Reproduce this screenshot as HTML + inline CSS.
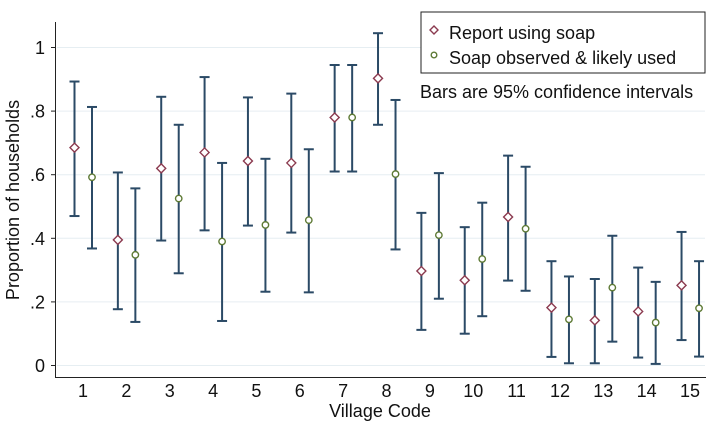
<!DOCTYPE html>
<html><head><meta charset="utf-8"><style>
body{margin:0;background:#fff}
svg text{font-family:"Liberation Sans",Arial,sans-serif;fill:#111}
</style></head><body>
<svg id="c" width="725" height="430" xmlns="http://www.w3.org/2000/svg">
<g id="grid"></g><g id="axes"></g><g id="marks"></g>
<g>
<rect x="421" y="12" width="284" height="61" fill="#fff" stroke="#222" stroke-width="1"/>
<path d="M430,30 l4,-4 l4,4 l-4,4z" fill="none" stroke="#8b3a4f" stroke-width="1.4"/>
<text x="449" y="39" font-size="18">Report using soap</text>
<circle cx="434" cy="55" r="2.8" fill="none" stroke="#5e7a35" stroke-width="1.4"/>
<text x="449" y="64" font-size="18">Soap observed &amp; likely used</text>
</g>
<text x="420" y="98" font-size="18">Bars are 95% confidence intervals</text>
<text x="380" y="417" font-size="18" text-anchor="middle">Village Code</text>
<text transform="translate(19,200) rotate(-90)" font-size="18" text-anchor="middle">Proportion of households</text>
</svg>
<script>
const villages=[1,2,3,4,5,6,7,8,9,10,11,12,13,14,15];
const reportMean=[.685,.395,.62,.67,.643,.637,.78,.903,.297,.268,.467,.182,.142,.17,.252];
const reportLo=[.47,.177,.393,.425,.44,.418,.61,.757,.112,.1,.267,.027,.007,.025,.08];
const reportHi=[.893,.607,.845,.907,.843,.855,.945,1.045,.48,.435,.66,.328,.272,.308,.42];
const soapMean=[.592,.348,.525,.39,.442,.457,.78,.602,.41,.335,.43,.145,.245,.135,.18];
const soapLo=[.368,.137,.29,.14,.232,.23,.61,.365,.21,.155,.235,.007,.075,.005,.028];
const soapHi=[.813,.557,.757,.637,.65,.68,.945,.835,.605,.512,.625,.28,.408,.263,.328];
const yTicks=[0,.2,.4,.6,.8,1];
const yLabels=["0",".2",".4",".6",".8","1"];
const NS="http://www.w3.org/2000/svg";
const y=v=>365.5-v*318;
const x=i=>83+(i-1)*43.36;
function mk(t,a,p){const e=document.createElementNS(NS,t);for(const k in a)e.setAttribute(k,a[k]);p.appendChild(e);return e;}
const grid=document.getElementById('grid'),axes=document.getElementById('axes'),marks=document.getElementById('marks');
yTicks.forEach((v,i)=>{
 const g=mk('line',{x1:57,x2:705,y1:y(v),y2:y(v),stroke:'#e6eef2','stroke-width':1},grid);
 
 
 const t=mk('line',{x1:51,x2:56,y1:y(v),y2:y(v),stroke:'#222'},axes);
 
 
 const l=mk('text',{x:45,y:y(v)+6.5,'font-size':18,'text-anchor':'end'},axes);l.textContent=yLabels[i];
 
 
});
const ya=mk('line',{x1:55.5,x2:55.5,y1:22,y2:377.5,stroke:'#222','stroke-width':1},axes);


const xa=mk('line',{x1:55,x2:706,y1:377.5,y2:377.5,stroke:'#222','stroke-width':1},axes);


villages.forEach((v,i)=>{
 const l=mk('text',{x:x(v),y:397,'font-size':18,'text-anchor':'middle'},axes);l.textContent=v;
 
 
 [[-8.5,reportMean,reportLo,reportHi,'report'],[9,soapMean,soapLo,soapHi,'soap']].forEach(([o,m,lo,hi,n])=>{
  const cx=x(v)+o;
  const g=mk('g',{stroke:'#2b4a66','stroke-width':2},marks);
  
  
  mk('line',{x1:cx,x2:cx,y1:y(lo[i]),y2:y(hi[i])},g);
  mk('line',{x1:cx-5,x2:cx+5,y1:y(lo[i]),y2:y(lo[i])},g);
  mk('line',{x1:cx-5,x2:cx+5,y1:y(hi[i]),y2:y(hi[i])},g);
  const yy=y(m[i]);let p;
  if(n==='report') p=mk('path',{d:`M${cx-4.5},${yy} L${cx},${yy-4.5} L${cx+4.5},${yy} L${cx},${yy+4.5}Z`,fill:'#fff',stroke:'#8b3a4f','stroke-width':1.4},marks);
  else p=mk('circle',{cx:cx,cy:yy,r:3.2,fill:'#fff',stroke:'#5e7a35','stroke-width':1.4},marks);
  
  
 });
});
</script>
</body></html>
